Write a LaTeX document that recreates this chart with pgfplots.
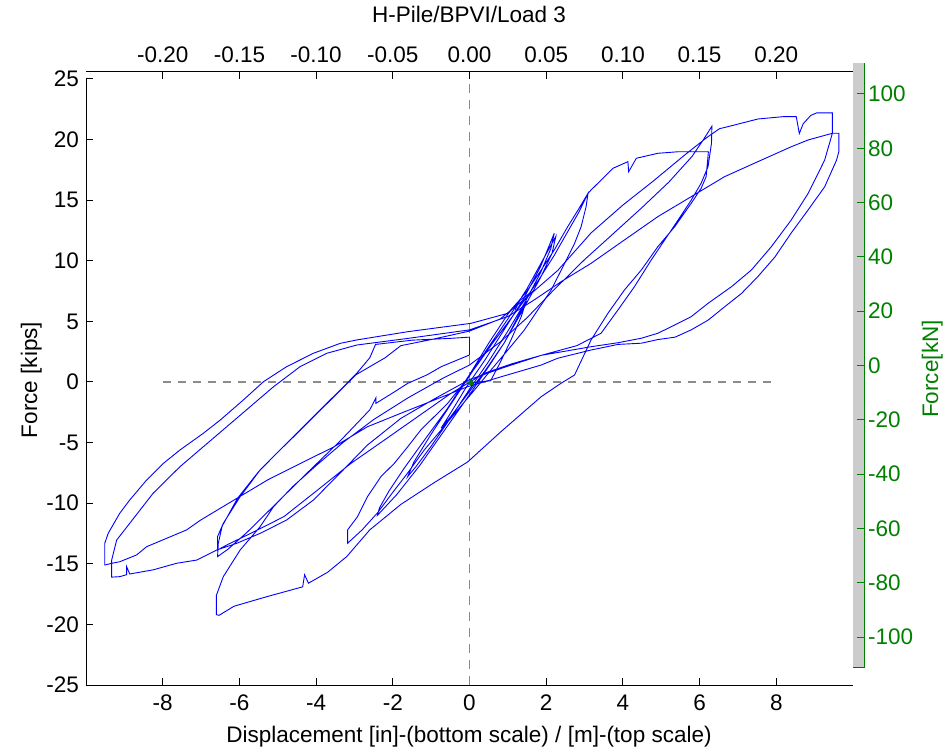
\documentclass[border=0pt]{standalone}
\usepackage{pgfplots}
\pgfplotsset{compat=1.18}
\usepackage{fontspec}
\setmainfont{Liberation Sans}
\definecolor{mgreen}{RGB}{0,128,0}
\definecolor{dgray}{RGB}{140,140,140}
\newcommand\bfs{\fontsize{22.5bp}{27bp}\selectfont}
\begin{document}
\begin{tikzpicture}
\useasboundingbox (0,0) rectangle (945bp,753bp);
% right (kN) axis
\begin{axis}[
 at={(853bp,85bp)}, anchor=south west, scale only axis,
 width=11bp, height=605bp,
 xmin=0, xmax=1, ymin=-111.4, ymax=111.4,
 axis x line=none, axis y line*=right,
 axis line style={draw=mgreen, line width=1bp},
 ytick={-100,-80,-60,-40,-20,0,20,40,60,80,100},
 yticklabels={-100,-80,-60,-40,-20,0,20,40,60,80,100},
 tick align=inside, major tick length=7bp,
 tick style={mgreen, line width=1bp},
 yticklabel style={text=mgreen, anchor=west, inner sep=0pt, xshift=4bp, font=\bfs},
 axis background/.style={fill=gray!40},
]
\draw[gray!50!black, line width=1.2bp] (rel axis cs:0,0) -- (rel axis cs:1,0);
\end{axis}
% top (m) axis
\begin{axis}[
 at={(86bp,75bp)}, anchor=south west, scale only axis,
 width=767bp, height=606bp,
 xmin=-10, xmax=10, ymin=0, ymax=1,
 axis y line=none, axis x line*=top,
 axis line style={black, line width=1bp},
 xtick={-8,-6,-4,-2,0,2,4,6,8},
 xticklabels={-0.20,-0.15,-0.10,-0.05,0.00,0.05,0.10,0.15,0.20},
 tick align=inside, major tick length=7bp,
 tick style={black, line width=1bp},
 xticklabel style={anchor=south, inner sep=0pt, yshift=9bp, font=\bfs},
]
\end{axis}
% main axis
\begin{axis}[
 at={(86bp,68bp)}, anchor=south west, scale only axis,
 width=767bp, height=606bp,
 xmin=-10, xmax=10, ymin=-25, ymax=25,
 axis x line*=bottom, axis y line*=left,
 axis line style={black, line width=1bp},
 xtick={-8,-6,-4,-2,0,2,4,6,8},
 xticklabels={-8,-6,-4,-2,0,2,4,6,8},
 ytick={-25,-20,-15,-10,-5,0,5,10,15,20,25},
 yticklabels={-25,-20,-15,-10,-5,0,5,10,15,20,25},
 tick align=inside, major tick length=7bp,
 tick style={black, line width=1bp},
 xticklabel style={anchor=north, inner sep=0pt, yshift=-10bp, font=\bfs},
 yticklabel style={anchor=east, inner sep=0pt, xshift=-7bp, font=\bfs},
]
\addplot[dgray, line width=1.3bp, dash pattern=on 8bp off 7bp] coordinates {(-8,0) (8,0)};
\addplot[dgray, line width=1.3bp, dash pattern=on 9bp off 7bp] coordinates {(0,-25) (0,25)};
% small and medium cycles
\addplot[blue, line width=0.9bp] coordinates {
(0.04,-0.06) (0.55,0.1) (0.8,1.6) (1.1,3.6) (1.35,5.4) (1.45,6.4)
(1.3,5.6) (0.9,3.2) (0.4,0.9) (-0.1,-1.2) (-0.5,-2.9) (-0.74,-3.8)
(-0.5,-2.6) (-0.1,-0.5) (0.4,1.8) (0.9,4.3) (1.4,6.8) (1.85,9.5) (2.21,12.27)
(2.12,11.0) (1.85,9.0) (1.45,6.6) (1.0,4.2) (0.5,1.7) (0.0,-0.6) (-0.5,-3.0) (-1.0,-5.3) (-1.4,-7.0) (-1.61,-7.8)
(-1.45,-6.6) (-1.0,-4.3) (-0.5,-1.9) (0.0,0.5) (0.5,2.9) (1.0,5.2) (1.5,7.7) (1.9,10.0) (2.25,12.0)
(2.15,10.6) (1.85,8.6) (1.4,6.0) (0.9,3.2) (0.4,0.8) (-0.1,-1.5) (-0.7,-4.2) (-1.3,-6.9) (-1.9,-9.3) (-2.4,-11.0)
(-2.35,-10.4) (-2.1,-9.0) (-1.7,-7.1) (-1.2,-4.9) (-0.6,-2.3) (0,0.6) (0.5,3.2) (1.0,5.6) (1.5,7.5) (1.87,9.24) (2.21,10.89) (2.56,12.81) (2.83,14.19) (3.09,15.57)
(3.04,14.46) (2.91,12.81) (2.74,11.44) (2.48,9.79) (2.13,7.59) (1.78,5.94) (1.43,4.29) (1.0,2.64) (0.56,0.99) (0.13,-0.66) (-0.31,-2.31) (-0.74,-3.96) (-1.18,-5.61) (-1.61,-7.5) (-2.0,-9.1) (-2.4,-10.8) (-2.8,-12.2) (-3.18,-13.31)
(-3.18,-12.21) (-2.92,-11.11) (-2.66,-9.46) (-2.31,-7.81) (-1.96,-6.71) (-1.61,-5.34) (-1.27,-3.96) (-0.92,-2.86) (-0.57,-1.76) (-0.2,-0.3) (0.2,1.4) (0.6,3.2) (1.0,4.9) (1.4,6.6) (1.8,8.4) (2.2,10.4) (2.56,12.4) (2.85,14.0) (3.09,15.57)
};
% large cycles
\addplot[blue, line width=0.9bp] coordinates {
(3.09,15.57) (3.17,15.84) (3.74,17.63) (4.13,18.18) (4.15,17.35) (4.35,18.46) (4.91,18.87) (5.45,19.0) (6.23,19.0)
(6.17,16.94) (6.04,15.98) (5.78,14.74) (5.35,12.81) (4.91,11.16) (4.48,9.24) (4.04,7.59) (3.61,5.67) (3.17,3.47) (2.74,0.58) (2.39,-0.1) (1.87,-1.21) (0.82,-4.1) (-0.05,-6.6) (-0.92,-8.3) (-1.79,-10.1) (-2.6,-12.2) (-3.2,-14.4) (-3.7,-15.7) (-4.2,-16.6) (-4.3,-15.9) (-4.35,-16.9) (-5.27,-17.7) (-6.14,-18.5) (-6.53,-19.25) (-6.6,-19.2)
(-6.6,-17.6) (-6.42,-16.06) (-5.98,-13.86) (-5.46,-11.94) (-5.11,-10.29) (-4.6,-8.6) (-4.0,-6.9) (-3.3,-5.0) (-2.5,-3.1) (-1.6,-1.3) (-0.7,0.3) (0,1.4) (0.8,3.3) (1.5,5.3) (2.2,7.6) (3.0,10.1) (3.7,12.1) (4.5,14.4) (5.2,16.5) (5.8,18.6) (6.1,20.0) (6.32,21.1)
(6.31,19.7) (6.22,17.76) (6.04,16.4) (5.78,15.0) (5.44,13.37) (5.09,11.72) (4.74,10.07) (4.3,7.86) (3.87,5.94) (3.43,4.02) (2.8,3.0) (1.87,2.2) (1.1,1.5) (0.39,0.72) (-0.48,-0.93) (-1.35,-2.86) (-2.22,-4.79) (-3.09,-6.71) (-3.96,-8.91) (-4.84,-11.11) (-5.7,-12.48) (-6.3,-13.4) (-6.57,-13.86)
(-6.57,-12.76) (-6.42,-11.66) (-5.98,-9.46) (-5.46,-7.26) (-4.94,-5.61) (-4.42,-3.96) (-3.9,-2.31) (-3.37,-0.66) (-2.94,0.72) (-2.6,2.0) (-2.45,3.1) (-1.5,3.45) (-0.5,3.6) (0,3.7) (0,2.23)
(-0.74,1.26) (-1.1,0.6) (-1.61,-0.11) (-2.0,-0.9) (-2.44,-1.76) (-2.44,-1.3) (-2.6,-2.3) (-3.35,-4.79) (-4.2,-7.4) (-5.0,-9.9) (-5.8,-12.4) (-6.3,-13.8) (-6.57,-14.41)
(-6.55,-13.3) (-6.45,-11.9) (-6.05,-9.6) (-5.5,-7.4) (-4.97,-5.7) (-4.45,-4.1) (-3.93,-2.45) (-3.4,-0.8) (-2.96,0.6) (-2.2,2.0) (-1.79,3.0) (-1.0,3.5) (0,4.2) (0.8,5.2) (1.5,7.0) (2.3,9.2) (3.17,12.3) (4.0,14.6) (4.8,16.6) (5.6,18.7) (6.2,20.2) (6.52,20.9)
(6.78,21.1) (7.52,21.7) (8.21,21.9) (8.52,21.9) (8.6,20.5) (8.7,21.3) (8.9,22.0) (9.05,22.2) (9.46,22.2) (9.46,20.5)
(9.26,18.3) (8.83,15.56) (8.39,13.37) (7.87,11.16) (7.35,9.24) (6.83,7.86) (6.22,6.49) (5.78,5.39) (5.35,4.7) (4.91,4.02) (4.48,3.61) (3.87,3.24) (3.17,2.91)
(1.87,2.2) (0.9,1.2) (0,0.2) (-0.92,-1.4) (-1.79,-3.0) (-2.66,-5.2) (-3.4,-7.6) (-4.07,-9.74) (-4.77,-11.39) (-5.46,-12.49) (-6.07,-13.31) (-6.59,-13.86) (-7.11,-14.69) (-7.64,-14.96) (-8.25,-15.5) (-8.86,-15.84) (-8.94,-15.24) (-8.94,-15.9) (-9.12,-16.06) (-9.33,-16.1)
(-9.33,-14.69) (-9.2,-13.04) (-8.86,-11.66) (-8.25,-9.18) (-7.55,-6.99) (-6.94,-5.34) (-6.33,-3.69) (-5.72,-2.04) (-5.11,-0.39) (-4.42,1.26) (-3.72,2.37) (-2.94,3.05) (-1.6,3.6) (0,4.3) (1.0,5.4) (1.7,6.8) (2.4,8.3) (3.17,9.79)
(4.04,11.72) (4.91,13.64) (5.78,15.29) (6.65,16.94) (7.52,18.18) (8.39,19.41) (8.83,19.97) (9.46,20.52) (9.63,20.52) (9.63,19.0)
(9.57,18.3) (9.26,16.1) (8.83,14.2) (8.39,12.3) (7.96,10.3) (7.52,8.7) (7.09,7.3) (6.65,6.2) (6.22,5.1) (5.78,4.3) (5.36,3.7) (4.91,3.5) (4.48,3.2) (3.87,3.1) (3.17,2.64) (2.3,1.96) (1.87,1.4) (0.9,0.5) (-0.05,-0.39) (-0.92,-1.49) (-1.79,-2.58) (-2.66,-3.69) (-3.53,-5.34) (-4.4,-6.71) (-5.27,-8.09) (-6.14,-9.74) (-7.01,-11.39) (-7.38,-12.21) (-8.42,-13.59) (-8.68,-14.27) (-9.12,-14.83) (-9.33,-14.96) (-9.51,-15.1)
(-9.51,-13.3) (-9.42,-12.48) (-9.12,-10.83) (-8.86,-9.74) (-8.42,-8.09) (-7.98,-6.71) (-7.55,-5.61) (-6.94,-4.23) (-6.5,-3.14) (-5.9,-1.49) (-5.37,0.03) (-4.77,1.26) (-4.07,2.37) (-3.37,3.19) (-2.94,3.47) (-1.61,4.15) (0.04,4.84) (1.0,5.67) (1.23,6.49) (1.2,6.0) (1.3,6.7) (1.7,7.6)
};
\addplot[only marks, mark=*, mark size=2.5bp, mgreen] coordinates {(0.04,-0.06)};
\end{axis}
\node[font=\bfs, anchor=base] at (469bp,730bp) {H-Pile/BPVI/Load 3};
\node[font=\bfs, anchor=base] at (469bp,11bp) {Displacement [in]-(bottom scale) / [m]-(top scale)};
\node[font=\bfs, anchor=base, rotate=90] at (37bp,373bp) {Force [kips]};
\node[font=\bfs, anchor=base, rotate=90, text=mgreen] at (938bp,384bp) {Force[kN]};
\end{tikzpicture}
\end{document}
